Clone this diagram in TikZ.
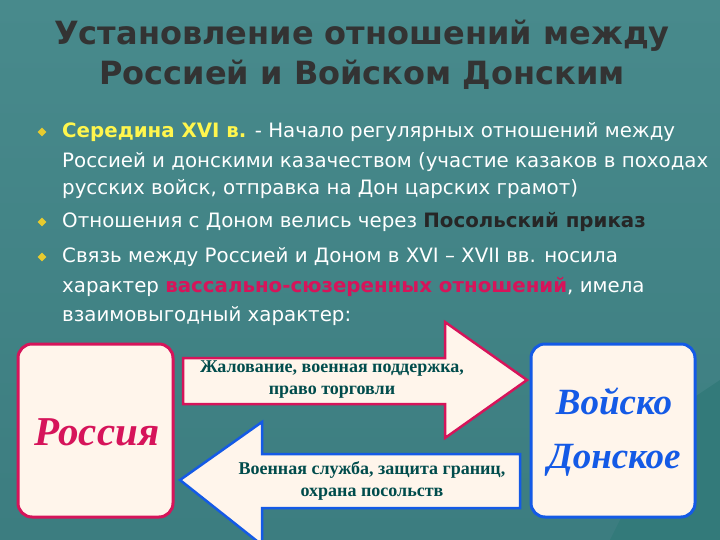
\documentclass[tikz,border=0pt]{standalone}
\usepackage{fontspec}
\usetikzlibrary{shapes.geometric}
\setmainfont{DejaVu Sans}
\newfontfamily\tnr{Liberation Serif}
\newfontfamily\djv{DejaVu Sans}
\definecolor{crim}{RGB}{214,20,90}
\definecolor{bl}{RGB}{20,90,230}
\definecolor{bgt}{RGB}{72,138,140}
\definecolor{bgb}{RGB}{60,125,128}
\begin{document}
\begin{tikzpicture}[x=1pt,y=-1pt,
 bt/.style={anchor=west,text=white,font=\djv\fontsize{19.8}{22}\selectfont,inner sep=0},
 bul/.style={fill=yellow!60!brown,draw=none,minimum size=9pt,inner sep=0,shape=diamond},
 arrt/.style={font=\tnr\bfseries\fontsize{18}{22}\selectfont,text=teal!60!black,align=center}]
\useasboundingbox (0,0) rectangle (720,540);
\shade[top color=bgt,bottom color=bgb] (0,0) rectangle (720,540);
\fill[teal!70!black!80] (610,540) -- (660,440) -- (690,400) -- (720,380) -- (720,540) -- cycle;
\node[font=\djv\bfseries\fontsize{32}{40}\selectfont,text=black!80,align=center] (title) at (362,55) {Установление отношений между\\Россией и Войском Донским};
\foreach \y in {132,222,257} \node[bul] at (42,\y) {};
\node[bt] (l1) at (36,132) {\hspace{26pt}\textcolor{yellow!70}{\bfseries Середина XVI в.} - Начало регулярных отношений между};
\node[bt] (l2) at (36,162) {\hspace{26pt}Россией и донскими казачеством (участие казаков в походах};
\node[bt] (l3) at (36,189) {\hspace{26pt}русских войск, отправка на Дон царских грамот)};
\node[bt] (l4) at (36,222) {\hspace{26pt}Отношения с Доном велись через \textcolor{black!85}{\bfseries Посольский приказ}};
\node[bt] (l5) at (36,257) {\hspace{26pt}Связь между Россией и Доном в XVI – XVII вв. носила};
\node[bt] (l6) at (36,287) {\hspace{26pt}характер \textcolor{crim}{\bfseries вассально-сюзеренных отношений}, имела};
\node[bt] (l7) at (36,316) {\hspace{26pt}взаимовыгодный характер:};
\draw[line width=3pt,draw=crim,fill=orange!8!white,rounded corners=14pt] (18,344) rectangle (173,517);
\node[font=\tnr\bfseries\itshape\fontsize{41}{46}\selectfont,text=crim] (rus) at (97,432) {Россия};
\draw[line width=3pt,draw=bl,fill=orange!8!white,rounded corners=14pt] (531,344) rectangle (695,517);
\node[font=\tnr\bfseries\itshape\fontsize{37}{54}\selectfont,text=bl,align=center] (don) at (614,432) {Войско\\Донское};
\draw[line width=2.5pt,draw=crim,fill=orange!8!white,line join=miter] (183,358) -- (445,358) -- (445,322) -- (527,380) -- (445,438) -- (445,404) -- (183,404) -- cycle;
\node[arrt] (t1) at (332,380) {Жалование, военная поддержка,\\право торговли};
\draw[line width=2.5pt,draw=bl,fill=orange!8!white,line join=miter] (520,454) -- (262,454) -- (262,422) -- (180,480) -- (262,545) -- (262,508) -- (520,508) -- cycle;
\node[arrt] (t2) at (372,481) {Военная служба, защита границ,\\охрана посольств};
\end{tikzpicture}
\end{document}
